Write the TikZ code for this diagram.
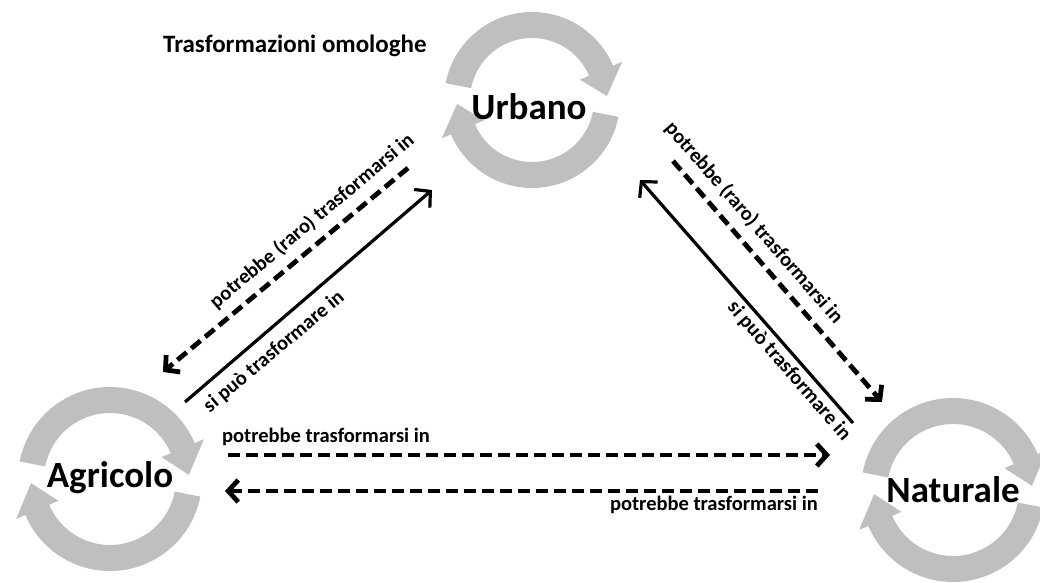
\documentclass[tikz,border=0pt]{standalone}
\usepackage{fontspec}
\setmainfont{Carlito}
\usetikzlibrary{arrows.meta}
\definecolor{cycgray}{HTML}{BFBFBF}
\newcommand\cyclearrow[3]{%
  \begin{scope}[shift={(#1,#2)}]
    \fill[cycgray] (169:{#3+13}) arc[start angle=169, end angle=23, radius={#3+13}]
      -- (23:{#3+23}) -- (3:{#3}) -- (23:{#3-23}) -- (23:{#3-13})
      arc[start angle=23, end angle=169, radius={#3-13}] -- cycle;
    \fill[cycgray] (-11:{#3+13}) arc[start angle=-11, end angle=-157, radius={#3+13}]
      -- (-157:{#3+23}) -- (-177:{#3}) -- (-157:{#3-23}) -- (-157:{#3-13})
      arc[start angle=-157, end angle=-11, radius={#3-13}] -- cycle;
  \end{scope}}
\tikzset{
  big/.style={font=\bfseries\fontsize{37}{40}\selectfont, inner sep=0pt, anchor=base},
  lbl/.style={font=\bfseries\fontsize{20.5}{22}\selectfont, inner sep=0pt},
  solidarr/.style={line width=3.2pt, -{Straight Barb[length=11pt,width=24pt]}},
  dasharr/.style={line width=4.8pt, dash pattern=on 12pt off 6pt, -{Straight Barb[length=10pt,width=22pt]}}
}
\begin{document}
\begin{tikzpicture}[x=1pt,y=1pt]
\clip (0,0) rectangle (1040,582);
\fill[white] (0,0) rectangle (1040,582);
% cycle arrows
\cyclearrow{532}{482}{75}
\cyclearrow{110}{103}{79}
\cyclearrow{953}{92}{79}
% main nodes
\node[big] (urb) at (529,462) {Urbano};
\node[big] (agr) at (110,95) {Agricolo};
\node[big] (nat) at (953,80) {Naturale};
% title
\node[font=\bfseries\fontsize{25}{27}\selectfont, inner sep=0pt, anchor=base west] (title) at (163,529) {Trasformazioni omologhe};
% connector end points
\coordinate (a1s) at (408,414); \coordinate (a1e) at (163,210);
\coordinate (a2s) at (185,180); \coordinate (a2e) at (432,392);
\coordinate (a3s) at (673,421); \coordinate (a3e) at (882,180);
\coordinate (a4s) at (853,159); \coordinate (a4e) at (640,402);
\coordinate (a5s) at (228,127); \coordinate (a5e) at (830,127);
\coordinate (a6s) at (818,91);  \coordinate (a6e) at (225,91);
\draw[dasharr] (a1s) -- (a1e);
\draw[solidarr] (a2s) -- (a2e);
\draw[dasharr] (a3s) -- (a3e);
\draw[solidarr] (a4s) -- (a4e);
\draw[dasharr] (a5s) -- (a5e);
\draw[dasharr] (a6s) -- (a6e);
% labels
\node[lbl, rotate=40] (l1) at (312,361) {potrebbe (raro) trasformarsi in};
\node[lbl, rotate=40] (l2) at (274,230) {si può trasformare in};
\node[lbl, rotate=-49] (l3) at (754,359) {potrebbe (raro) trasformarsi in};
\node[lbl, rotate=-49] (l4) at (789,211) {si può trasformare in};
\node[lbl, anchor=base west] (l5) at (222,140) {potrebbe trasformarsi in};
\node[lbl, anchor=base east] (l6) at (818,72) {potrebbe trasformarsi in};
\end{tikzpicture}
\end{document}
